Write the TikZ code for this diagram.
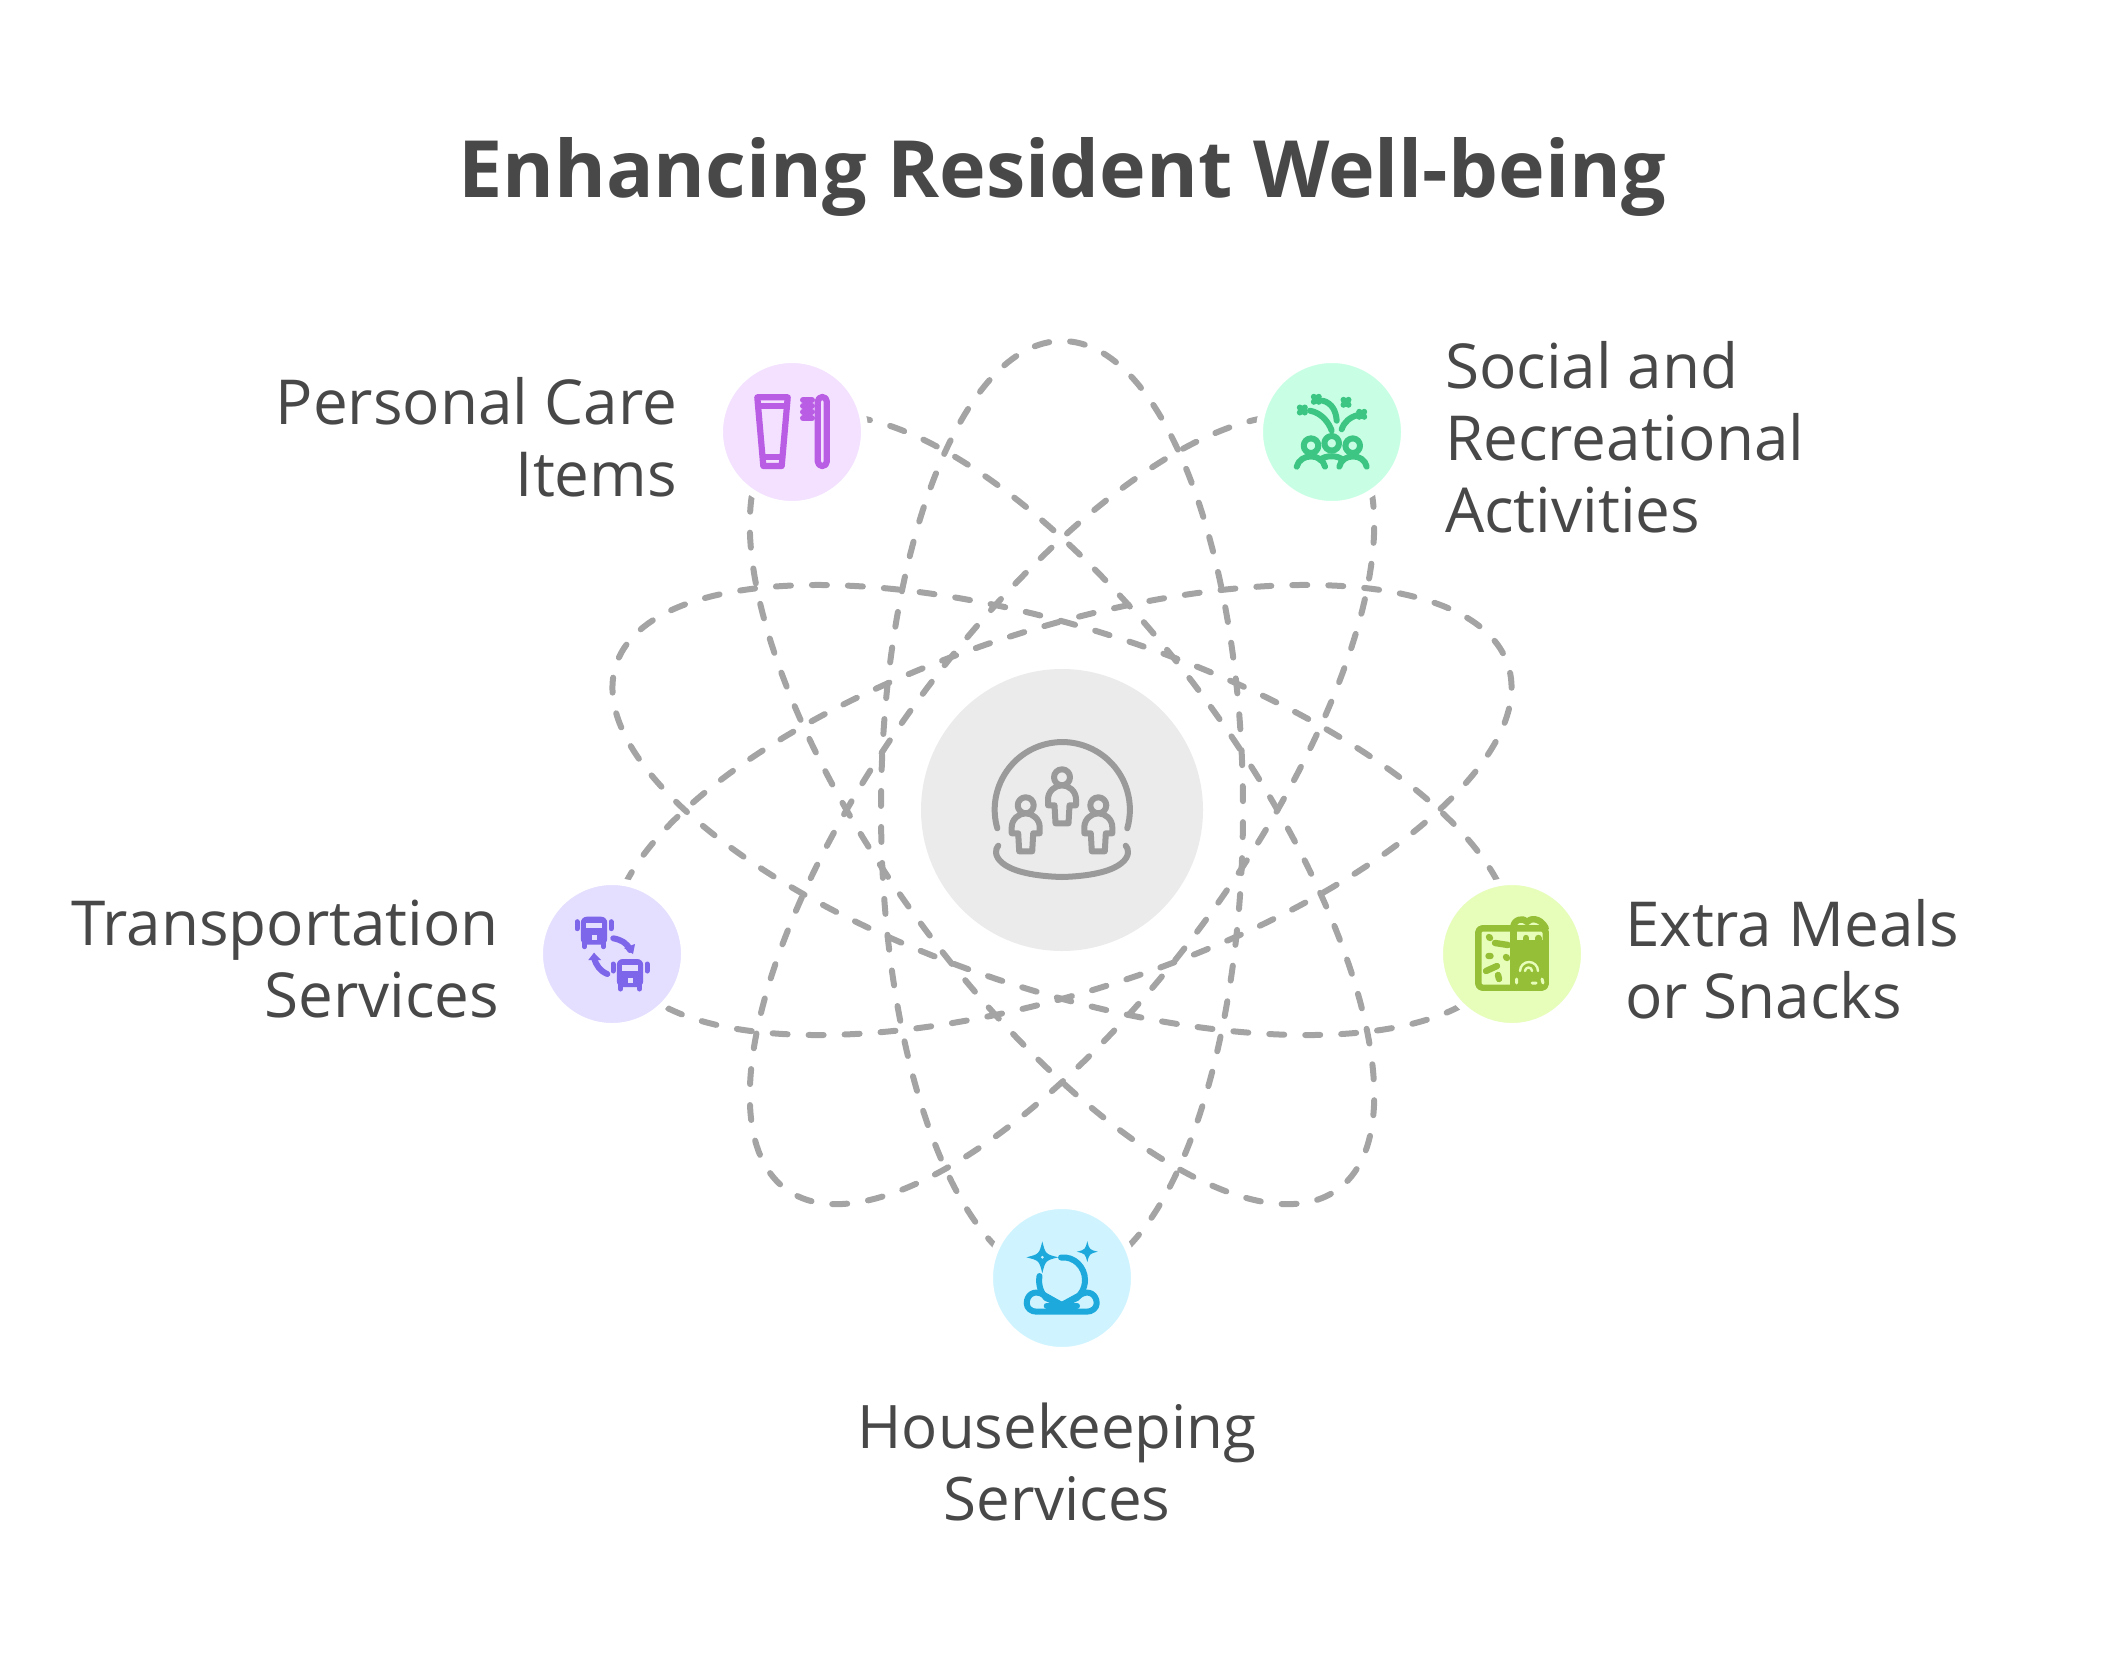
\documentclass[tikz,border=0pt]{standalone}
\usepackage{fontspec}
\setmainfont{Open Sans}
\usepackage{tikz}
\usetikzlibrary{positioning}
\definecolor{inkc}{HTML}{484848}
\definecolor{dashc}{HTML}{A4A4A4}
\definecolor{hubf}{HTML}{EBEBEB}
\definecolor{hubs}{HTML}{9A9A9A}
\definecolor{caref}{HTML}{F3E1FF}
\definecolor{cares}{HTML}{BA5DE5}
\definecolor{socf}{HTML}{C8FFE4}
\definecolor{socs}{HTML}{3CC583}
\definecolor{busf}{HTML}{E4DEFF}
\definecolor{buss}{HTML}{7D66E9}
\definecolor{mealf}{HTML}{E7FDBA}
\definecolor{meals}{HTML}{95BF37}
\definecolor{housef}{HTML}{D0F4FF}
\definecolor{houses}{HTML}{1DA9DC}
\tikzset{
	orbit_l/.style = {dashc, line width=3pt, line cap=round, dash pattern=on 7.5pt off 10.5pt},
	dot_n/.style = {circle, inner sep=0pt, draw=white, line width=3.5pt, minimum size=72.5pt},% halo cuts the orbits
	hub_n/.style = {circle, inner sep=0pt, fill=hubf, minimum size=141pt},
	label_l/.style = {inkc, align=right, font=\fontsize{31}{36}\selectfont},
	label_r/.style = {inkc, align=left, font=\fontsize{31}{36}\selectfont},
	label_c/.style = {inkc, align=center, font=\fontsize{30}{36}\selectfont},
	icon_l/.style = {line width=3pt, line cap=round, line join=round},
	person/.pic = {
		\draw (0,0) circle [radius=8];
		\draw (-14,28) -- (-14,22) .. controls (-14,14) and (-7,8) .. (0,8) .. controls (7,8) and (14,14) .. (14,22)
			-- (14,28) -- (7.5,28) -- (6.5,46) -- (-6.5,46) -- (-7.5,28) -- cycle;
	},
	clover/.pic = {
		\draw (-2.5,-2.5) -- (2.5,2.5) (-2.5,2.5) -- (2.5,-2.5);
	},
	sparkle/.pic = {
		\fill (0,-1) .. controls (.2,-.2) .. (1,0) .. controls (.2,.2) .. (0,1)
			.. controls (-.2,.2) .. (-1,0) .. controls (-.2,-.2) .. cycle;
	},
	coach/.pic = {
		\fill [rounded corners=3pt] (-13.2,-15) rectangle (13.2,13);
		\draw [line width=2.5pt] (-17,-10) -- (-17,-3) (17,-10) -- (17,-3);
		\draw [line width=2.5pt] (-9.5,11) -- (-9.5,15) (9.5,11) -- (9.5,15);
		\fill [busf] (-8,-9) rectangle (8,-3.5);
		\fill [busf] (-2.5,3.5) rectangle (2.5,8.5);
	}
}
\begin{document}
\begin{tikzpicture}[x=0.5pt,y=-0.5pt]
\useasboundingbox (0,0) rectangle (2124,1674);
\coordinate (centre) at (1062,810);
% orbits first, one from each outer circle
\foreach \ang in {-90,-18,54,126,198}
	\draw [orbit_l, rotate around={\ang:(centre)}] (centre) ellipse [x radius=469, y radius=181];

\node [hub_n] (hub) at (centre) {};
\node [dot_n, fill=caref] (care) at (792,432) {};
\node [dot_n, fill=socf] (social) at (1332,432) {};
\node [dot_n, fill=busf] (transport) at (612,954) {};
\node [dot_n, fill=mealf] (food) at (1512,954) {};
\node [dot_n, fill=housef] (house) at (1062,1278) {};

\node [inkc, font=\fontsize{39.5}{44}\selectfont\bfseries] (title) at (1062,177) {Enhancing Resident Well-being};
\node [label_l, left=16pt of care, yshift=-2.6pt] (care_t) {Personal Care\\Items};
\node [label_r, right=15pt of social, yshift=-2.6pt] (social_t) {Social and\\Recreational\\Activities};
\node [label_l, left=15pt of transport, yshift=-2.6pt] (transport_t) {Transportation\\Services};
\node [label_r, right=15pt of food, yshift=-2.6pt] (food_t) {Extra Meals\\or Snacks};
\node [label_c, below=21pt of house, xshift=-2.5pt] (house_t) {Housekeeping\\Services};

% hub icon
\begin{scope}[hubs, icon_l]
	\draw (997.3,828.3) arc [start angle=164, end angle=376, radius=67.6];
	\draw (998.3,845.7) .. controls (992,852) and (994,875) .. (1062,877) .. controls (1130,875) and (1132,852) .. (1125.7,845.7);
	\pic at (1025.7,805.3) {person};
	\pic at (1062,777.3) {person};
	\pic at (1098.3,805.3) {person};
\end{scope}

% tube and brush
\begin{scope}[cares, icon_l, line width=3.1pt]
	\draw (757.3,397.3) -- (787.7,397.3) -- (781.7,466) -- (763.3,466) -- cycle;
	\draw (758,405.7) -- (787,405.7) (763,456.7) -- (782,456.7);
	\draw [rounded corners=2.2pt] (817.8,397) rectangle (826.8,466);
	\foreach \yy in {400,405.7,411.7,418.3}
		\draw [line width=3pt] (803,\yy) -- (812,\yy);
\end{scope}

% crowd and fireworks
\begin{scope}[socs, icon_l]
	\draw (1311,445.7) circle [radius=7.3];
	\draw (1331.7,443.3) circle [radius=7.3];
	\draw (1352.7,445.7) circle [radius=7.3];
	\draw (1296.7,466.7) .. controls (1300,453) and (1322,453) .. (1325,466.7);
	\draw (1339.3,466.7) .. controls (1342,453) and (1364,453) .. (1366.7,466.7);
	\draw (1320,460) .. controls (1325,455) and (1338,455) .. (1343,460);
	\draw (1310,410.7) .. controls (1322,413) and (1329,423) .. (1331.7,430.7);
	\draw (1322.7,400.7) .. controls (1332,403) and (1336,411) .. (1336.7,420.7);
	\draw (1341.7,429.3) .. controls (1344,422) and (1350,417) .. (1358,415);
	\pic at (1302.3,410) {clover};
	\pic at (1316.3,399.3) {clover};
	\pic at (1346,402.3) {clover};
	\pic at (1361.7,414.3) {clover};
\end{scope}

% two buses
\begin{scope}[buss, icon_l]
	\pic at (594,931.7) {coach};
	\pic at (630,974) {coach};
	\draw (613.3,938.3) .. controls (622,940) and (628,944) .. (630,950);
	\fill (635,944) -- (633,954) -- (624,948) -- cycle;
	\draw (607.3,974) .. controls (600,971) and (596,965) .. (594,958);
	\fill (588.3,960) -- (594,952.7) -- (601,960) -- cycle;
\end{scope}

% lunch box
\begin{scope}[meals, icon_l, line width=3.2pt]
	\draw [rounded corners=2pt] (1478.3,928.3) rectangle (1545.7,987.7);
	\draw (1513.3,928.3) -- (1513.3,987.7);
	\draw (1513.3,928) .. controls (1513,919) and (1524,917) .. (1527,922) .. controls (1530,918) and (1540,917) .. (1545.7,928);
	\draw (1513.3,943.3) -- (1545.7,943.3) (1526,938) -- (1526,943) (1538.3,938) -- (1538.3,943);
	\draw (1513.3,950) -- (1545.7,950);
	\fill (1514,950) rectangle (1545,987);
	\draw [mealf, line width=1.2pt] (1520,971) arc [start angle=180, end angle=360, radius=9];
	\draw [mealf, line width=1.2pt] (1525,971) arc [start angle=180, end angle=360, radius=3.5];
	\draw [mealf, line width=1.5pt] (1516.5,983) -- (1516.5,979) (1532,983) -- (1536,983) (1543,983) -- (1542,979);
	\draw (1489,937) -- (1490,938) (1495,943) -- (1508,945) (1488.5,956) -- (1490.5,956) (1506,957) -- (1507,958)
		(1486,971) -- (1497,966) (1498,975) -- (1499,979);
\end{scope}

% sitting figure
\begin{scope}[houses, icon_l]
	\pic [scale=16] at (1042.3,1257.3) {sparkle};
	\pic [scale=10.5] at (1087.3,1251.7) {sparkle};
	\fill [housef] (1042.3,1257.3) circle [radius=1.5];
	\draw (1061,1257.5) .. controls (1074,1256) and (1085,1267) .. (1085,1280) .. controls (1085,1289) and (1080,1295) .. (1077,1298) -- (1062,1305) -- (1046,1298)
		.. controls (1041,1293) and (1038,1285) .. (1039.5,1276);
	\draw (1061.7,1305) -- (1044,1295) .. controls (1034,1289) and (1026.7,1295) .. (1026.7,1303.3) .. controls (1026.7,1308) and (1031,1311.7) .. (1036.7,1311.7)
		-- (1086.7,1311.7) .. controls (1092,1311.7) and (1096.7,1308) .. (1096.7,1303.3) .. controls (1096.7,1295) and (1089,1289) .. (1080,1295) -- cycle;
	\draw (1046.7,1305.7) -- (1077,1305.7);
\end{scope}
\end{tikzpicture}
\end{document}
